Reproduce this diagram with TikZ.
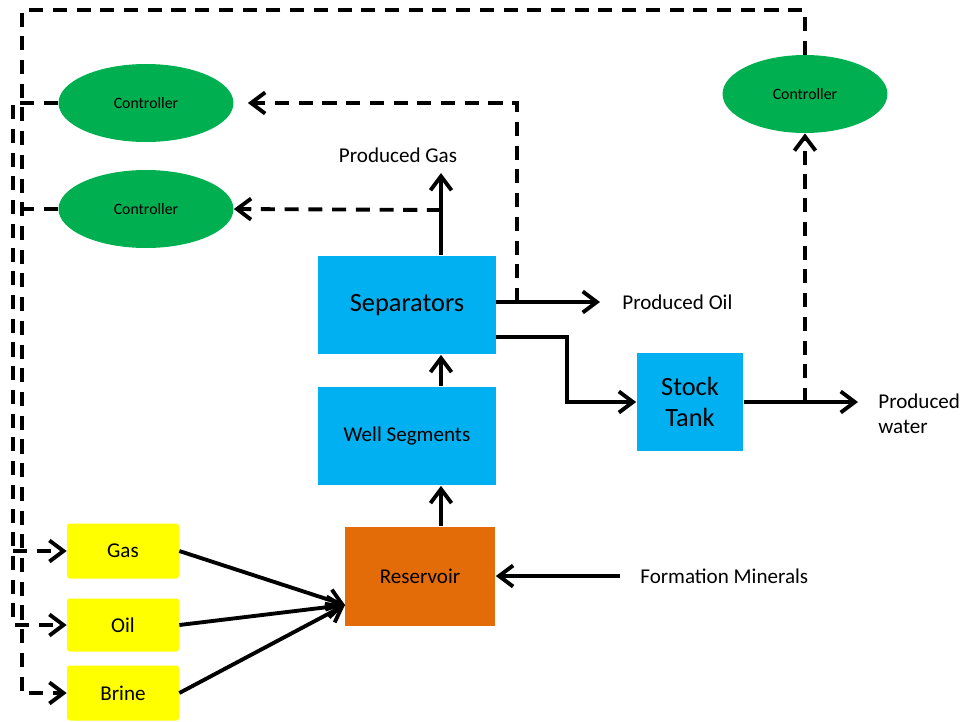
\documentclass[tikz,border=0pt]{standalone}
\usepackage{fontspec}
\setmainfont{Carlito}
\usepackage{tikz}
\usetikzlibrary{
  arrows.meta,
  positioning,
  calc,
  shapes.geometric}
\definecolor{ctrlgreen}{RGB}{0,176,80}
\definecolor{unitblue}{RGB}{0,176,240}
\definecolor{resorange}{RGB}{227,108,9}
\definecolor{feedyellow}{RGB}{255,255,0}
\tikzset{every picture/.style={font issue=\fontsize{12}{14}},
         font issue/.style={execute at begin picture={#1\selectfont}}
        }

\begin{document}
\begin{tikzpicture}[x=0.02cm, y=-0.02cm,
    flow/.style={line width=2.2pt, -{Straight Barb[length=8pt,width=12pt]}},
    signal/.style={flow, dash pattern=on 8pt off 5.5pt},
    ctrl/.style={ellipse, fill=ctrlgreen, inner sep=0pt, minimum width=3.5cm, minimum height=1.56cm,
                 font=\fontsize{9}{11}\selectfont},
    unit/.style={rectangle, fill=unitblue, inner sep=0pt, minimum width=3.56cm, minimum height=1.98cm},
    feed/.style={rectangle, rounded corners=1.5pt, fill=feedyellow, inner sep=0pt,
                 minimum width=2.24cm, minimum height=1.1cm},
    lbl/.style={inner sep=0pt, align=left}]

\useasboundingbox (0,0) rectangle (964,721);

%controllers
\node[ctrl] (ctrlA) at (146,103) {Controller};
\node[ctrl] (ctrlB) at (146,209) {Controller};
\node[ctrl, minimum width=3.3cm] (ctrlC) at (805,94) {Controller};

%process units
\node[unit, font=\fontsize{15}{18}\selectfont] (sep) at (407,305) {Separators};
\node[unit] (well) at (407,436) {Well Segments};
\node[unit, fill=resorange, minimum width=3.02cm] (res) at (420,576) {Reservoir};
\node[unit, minimum width=2.14cm, align=center, font=\fontsize{15}{18}\selectfont] (tank) at (690,402) {Stock\\Tank};

%injected fluids
\node[feed] (gas) at (123,551) {Gas};
\node[feed, minimum height=1.06cm] (oil) at (123,625) {Oil};
\node[feed] (brine) at (123,693) {Brine};

%labels
\node[lbl] (gaslbl) at (398,155) {Produced Gas};
\node[lbl, anchor=west] (oillbl) at (622,302) {Produced Oil};
\node[lbl, anchor=west] (waterlbl) at (878,414) {Produced\\water};
\node[lbl, anchor=west] (minlbl) at (640,576) {Formation Minerals};

\coordinate (spine) at (441,0);
\coordinate (gasend) at (441,173);
\coordinate (tapB) at (441,210);
\coordinate (oiltap) at (517,302);
\coordinate (oilend) at (600,302);
\coordinate (tankbend) at (567,337);
\coordinate (watertap) at (805,402);
\coordinate (waterend) at (858,402);
\coordinate (topleft) at (22,10);
\coordinate (busA) at (13,103);
\coordinate (busB) at (13,209);
\coordinate (resin) at (345,605);

%main flow
\draw[flow] (res.north -| spine) -- (well.south -| spine);
\draw[flow] (well.north -| spine) -- (sep.south -| spine);
\draw[flow] (sep.north -| spine) -- (gasend);
\draw[flow] (sep.east |- oiltap) -- (oilend);
\draw[flow] (sep.east |- tankbend) -- (tankbend) |- (tank.west);
\draw[flow] (tank.east) -- (tank.east -| waterend);
\draw[flow] ($(minlbl.west)+(-20,0)$) -- (res.east);

\draw[flow] (gas.east) -- (resin);
\draw[flow] (oil.east) -- (resin);
\draw[flow] (brine.east) -- (resin);

%control loops
\draw[signal] (tapB) -- (ctrlB.east);
\draw[signal, shorten >=8pt] (oiltap) |- (ctrlA.east);
\draw[signal] (tank.east -| watertap) -- (ctrlC.south);
\draw[signal] (ctrlC.north) |- (topleft) |- (brine.west);
\draw[signal] (ctrlA.west) -- (busA) |- (oil.west);
% shares the bus of ctrlA
\draw[signal] (ctrlB.west) -- (busB) (busB |- gas.west) -- (gas.west);

\end{tikzpicture}
\end{document}
